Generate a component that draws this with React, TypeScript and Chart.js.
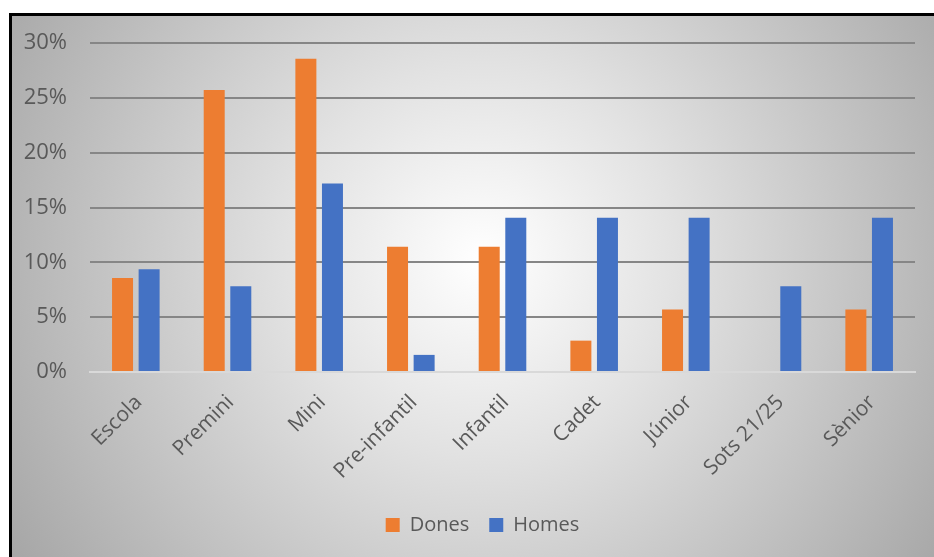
import React, { useEffect, useRef } from "react";
import { Chart, registerables } from "chart.js";

Chart.register(...registerables);

const categories = ["Escola", "Premini", "Mini", "Pre-infantil", "Infantil", "Cadet", "Júnior", "Sots 21/25", "Sènior"];
const dones = [8.57, 25.71, 28.57, 11.43, 11.43, 2.86, 5.71, 0, 5.71];
const homes = [9.38, 7.81, 17.19, 1.56, 14.06, 14.06, 14.06, 7.81, 14.06];
const yTicks = [0, 5, 10, 15, 20, 25, 30];

const legendShift = {
  id: "legendShift",
  afterLayout(chart: any) {
    if (chart.legend) {
      chart.legend.left += 19;
      chart.legend.right += 19;
    }
  },
};

export default function App() {
  const ref = useRef<HTMLCanvasElement>(null);
  useEffect(() => {
    document.body.style.overflow = "hidden";
    const fam = "'Open Sans', sans-serif";
    const chart = new Chart(ref.current!, {
      type: "bar",
      data: {
        labels: categories,
        datasets: [
          { label: "Dones", data: dones, backgroundColor: "#ED7D31", categoryPercentage: 0.58, barPercentage: 0.79 },
          { label: "Homes", data: homes, backgroundColor: "#4472C4", categoryPercentage: 0.58, barPercentage: 0.79 },
        ],
      },
      plugins: [legendShift],
      options: {
        animation: false,
        responsive: false,
        layout: { padding: { left: 0, right: 19, top: 27, bottom: 12 } },
        plugins: {
          tooltip: { enabled: false },
          legend: {
            position: "bottom",
            labels: { font: { family: fam, size: 20 }, color: "#595959", boxWidth: 14, boxHeight: 14, padding: 20 },
          },
        },
        scales: {
          y: {
            min: 0,
            max: 30,
            afterFit: (s: any) => {
              s.width = 78;
              s.paddingTop = 0;
              s.paddingBottom = 0;
            },
            afterBuildTicks: (s: any) => { s.ticks = yTicks.map((v) => ({ value: v })); },
            ticks: { font: { family: fam, size: 22 }, color: "#595959", padding: 23, callback: (v: any) => v + "%" },
            grid: {
              drawTicks: false,
              lineWidth: 2,
              color: (c: any) => (c.tick && c.tick.value === 0 ? "rgba(0,0,0,0)" : "#868686"),
            },
            border: { display: false },
          },
          x: {
            afterFit: (s: any) => { s.height = 123; },
            ticks: { font: { family: fam, size: 21 }, color: "#595959", minRotation: 45, maxRotation: 45, padding: 18, labelOffset: 3 },
            grid: { display: false, drawTicks: false },
            border: { display: true, color: "#d9d9d9", width: 2 },
          },
        },
      },
    });
    return () => chart.destroy();
  }, []);
  return (
    <div
      style={{
        position: "fixed",
        left: 9,
        top: 13,
        width: 922,
        height: 541,
        borderLeft: "3px solid #000",
        borderTop: "3px solid #000",
        background: "radial-gradient(circle farthest-corner at 51% 45%, #ffffff 0%, #e2e2e2 35%, #a6a6a6 100%)",
      }}
    >
      <canvas ref={ref} width={922} height={541} style={{ display: "block" }} />
    </div>
  );
}
